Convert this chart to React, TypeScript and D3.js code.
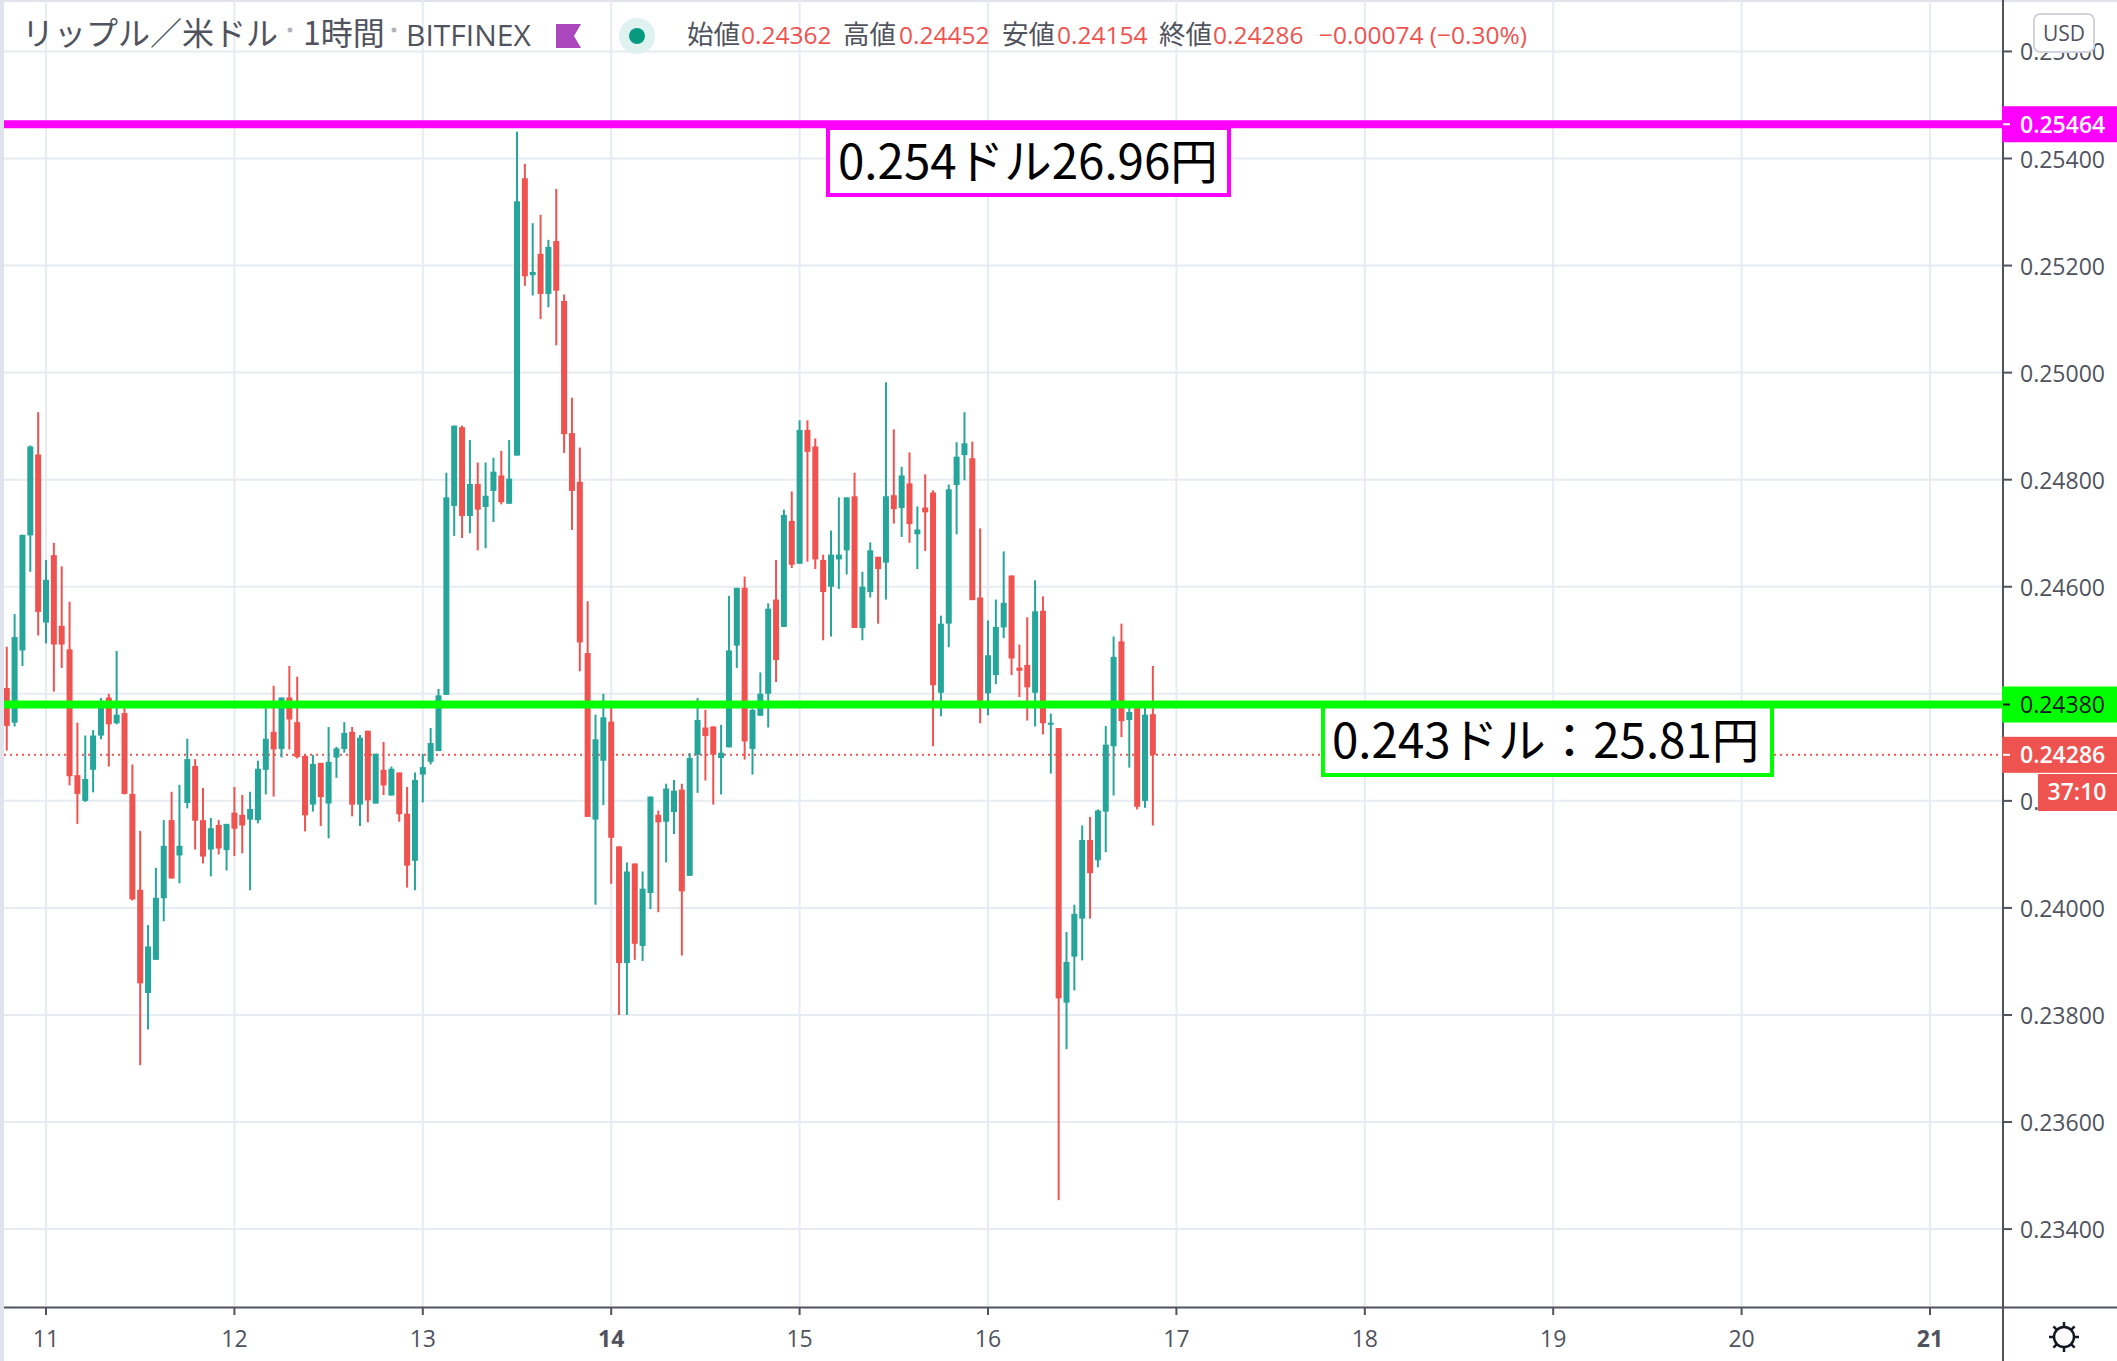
import React from "react";
import * as d3 from "d3";

const FIRST_HOUR = -5; // hours from 11th 00:00 of the first candle
const opens = [.24411,.24346,.24481,.24696,.24847,.24533,.24659,.24527,.24483,.24248,.24200,.24258,.24322,.24393,.24345,.24364,.24213,.24034,.23841,.23903,.24018,.24164,.24098,.24196,.24265,.24164,.24109,.24155,.24108,.24178,.24174,.24165,.24164,.24258,.24329,.24297,.24393,.24347,.24284,.24193,.24271,.24195,.24281,.24297,.24329,.24193,.24331,.24195,.24258,.24210,.24253,.24176,.24088,.24249,.24273,.24293,
.24398,.24751,.24898,.24732,.24792,.24749,.24779,.24808,.24755,.24845,.25363,.25182,.25222,.25147,.25246,.25134,.24887,.24796,.24476,.24165,.24275,.24348,.24115,.23897,.24083,.23929,.24028,.24174,.24161,.24179,.24221,.24060,.24286,.24337,.24339,.24280,.24300,.24490,.24598,.24297,.24359,.24400,.24576,.24525,.24723,.24643,.24893,.24862,.24650,.24600,.24651,
.24668,.24769,.24523,.24590,.24656,.24645,.24771,.24747,.24793,.24698,.24748,.24776,.24402,.24531,.24790,.24846,.24840,.24580,.24401,.24435,.24524,.24621,.24449,.24454,.24402,.24555,.24345,.24336,.23823,.23909,.23980,.24127,.24089,.24180,.24302,.24498,.24351,.24376,.24200,.24362];
const highs = [.24488,.24549,.24697,.24864,.24926,.24650,.24682,.24638,.24572,.24346,.24322,.24332,.24392,.24400,.24480,.24373,.24268,.24144,.23968,.24075,.24164,.24217,.24230,.24316,.24278,.24224,.24168,.24164,.24157,.24226,.24211,.24217,.24275,.24373,.24415,.24393,.24452,.24432,.24286,.24286,.24271,.24338,.24301,.24347,.24338,.24323,.24331,.24288,.24310,.24264,.24253,.24226,.24253,.24288,.24336,.24409,
.24813,.24901,.24901,.24874,.24832,.24832,.24841,.24854,.24874,.25450,.25390,.25279,.25295,.25248,.25343,.25146,.24953,.24860,.24573,.24361,.24400,.24376,.24115,.24085,.24083,.24068,.24208,.24182,.24232,.24239,.24232,.24289,.24392,.24370,.24339,.24342,.24583,.24598,.24619,.24372,.24440,.24569,.24650,.24744,.24778,.24911,.24911,.24877,.24660,.24705,.24767,
.24767,.24813,.24628,.24683,.24656,.24982,.24894,.24824,.24851,.24750,.24810,.24780,.24546,.24791,.24870,.24926,.24871,.24709,.24537,.24576,.24666,.24621,.24492,.24543,.24612,.24582,.24363,.24336,.23955,.24006,.24154,.24170,.24184,.24340,.24507,.24531,.24375,.24376,.24375,.24452];
const lows = [.24294,.24339,.24452,.24628,.24509,.24494,.24404,.24448,.24229,.24157,.24198,.24216,.24315,.24264,.24343,.24212,.24014,.23706,.23773,.23903,.23975,.24055,.24046,.24186,.24109,.24083,.24059,.24100,.24070,.24097,.24102,.24033,.24158,.24212,.24208,.24281,.24296,.24279,.24143,.24180,.24153,.24130,.24243,.24290,.24171,.24153,.24160,.24195,.24211,.24210,.24161,.24038,.24033,.24197,.24268,.24293,
.24398,.24695,.24691,.24700,.24668,.24672,.24721,.24754,.24755,.24845,.25162,.25144,.25100,.25122,.25051,.24850,.24706,.24442,.24170,.24006,.24192,.24045,.23800,.23800,.23903,.23901,.23998,.23992,.24085,.24138,.23911,.24060,.24215,.24238,.24193,.24212,.24300,.24448,.24277,.24249,.24359,.24337,.24422,.24525,.24635,.24643,.24647,.24633,.24500,.24507,.24596,
.24623,.24523,.24500,.24580,.24531,.24576,.24718,.24693,.24682,.24633,.24667,.24302,.24358,.24487,.24698,.24799,.24575,.24345,.24360,.24418,.24504,.24435,.24394,.24350,.24339,.24324,.24251,.23454,.23736,.23846,.23902,.23980,.24076,.24104,.24210,.24319,.24262,.24184,.24187,.24154];
const closes = [.24340,.24506,.24697,.24862,.24553,.24613,.24492,.24492,.24246,.24213,.24241,.24322,.24380,.24343,.24361,.24213,.24016,.23859,.23928,.24019,.24116,.24055,.24116,.24278,.24163,.24096,.24149,.24111,.24157,.24148,.24154,.24185,.24260,.24316,.24296,.24393,.24352,.24282,.24173,.24269,.24207,.24273,.24298,.24327,.24193,.24318,.24201,.24288,.24229,.24260,.24175,.24079,.24239,.24263,.24308,.24397,
.24767,.24901,.24732,.24792,.24744,.24770,.24815,.24758,.24802,.25320,.25180,.25188,.25147,.25235,.25153,.24885,.24779,.24496,.24170,.24315,.24356,.24131,.23897,.24068,.23933,.24036,.24208,.24160,.24223,.24219,.24031,.24280,.24351,.24321,.24286,.24290,.24481,.24598,.24311,.24370,.24400,.24559,.24463,.24734,.24641,.24893,.24852,.24651,.24590,.24660,.24660,
.24767,.24523,.24600,.24668,.24633,.24769,.24745,.24808,.24717,.24707,.24739,.24416,.24531,.24782,.24843,.24868,.24575,.24387,.24472,.24525,.24570,.24466,.24443,.24412,.24554,.24345,.24346,.23831,.23899,.23989,.24127,.24065,.24182,.24305,.24469,.24349,.24366,.24189,.24361,.24286];

const priceTicks = [.234,.236,.238,.24,.242,.244,.246,.248,.25,.252,.254,.256];
const hiddenPriceLabels = [.244]; // covered by the green price flag in the reference
const dayLabels = ["11","12","13","14","15","16","17","18","19","20","21"];
const boldDays = ["14","21"];
const resistance = 0.25464;
const support = 0.2438;
const lastPrice = 0.24286;
const legendKeys = ["始値","高値","安値","終値"];
const legendValues = ["0.24362","0.24452","0.24154","0.24286"];
const legendKeyX = [687, 843, 1002, 1159];
const legendValueX = [741, 899, 1057, 1213];

const UP = "#26a69a", DOWN = "#ef5350", GRID = "#e6ecf2", AXIS = "#50535e";
const SANS = "'Open Sans','Noto Sans CJK JP',sans-serif";
const JP = "'Noto Sans CJK JP',sans-serif";
const plotLeft = 4, plotRight = 2003, plotBottom = 1308;

const y = d3.scaleLinear().domain([0.244, 0.254]).range([693.8, 158.5]);
const xHour = d3.scaleLinear().domain([0, 24]).range([46, 234.4]);
const xDay = (i: number) => xHour(i * 24);
const candles = d3.range(opens.length).map((i) => ({
  h: FIRST_HOUR + i, o: opens[i], hi: highs[i], lo: lows[i], c: closes[i],
}));

export default function App() {
  const bodyW = 6;
  return (
    <svg width={2117} height={1361} style={{ position: "absolute", left: 0, top: 0, background: "#fff" }}>
      <rect x={0} y={0} width={2117} height={2} fill="#e0e3eb" />
      {priceTicks.map((p) => (
        <line key={p} x1={plotLeft} x2={plotRight} y1={y(p)} y2={y(p)} stroke={GRID} strokeWidth={2} />
      ))}
      {dayLabels.map((d, i) => (
        <line key={d} x1={xDay(i)} x2={xDay(i)} y1={0} y2={plotBottom} stroke={GRID} strokeWidth={2} />
      ))}
      <line x1={plotLeft} x2={plotRight} y1={y(lastPrice)} y2={y(lastPrice)} stroke={DOWN} strokeWidth={2} strokeDasharray="2 4" />
      {candles.map((c) => {
        const col = c.c >= c.o ? UP : DOWN;
        const x = xHour(c.h);
        const top = y(Math.max(c.o, c.c));
        const bot = y(Math.min(c.o, c.c));
        return (
          <g key={c.h}>
            <rect x={x - 1} y={y(c.hi)} width={2} height={y(c.lo) - y(c.hi)} fill={col} />
            <rect x={x - bodyW / 2} y={top} width={bodyW} height={Math.max(bot - top, 2)} fill={col} />
          </g>
        );
      })}
      <rect x={828} y={128} width={401} height={67} fill="#fff" stroke="#ff00ff" strokeWidth={4} />
      <text x={838} y={179} fontFamily={JP} fontSize={47.5} fill="#000">0.254ドル26.96円</text>
      <rect x={1323} y={706} width={449} height={69} fill="#fff" stroke="#00ff00" strokeWidth={4} />
      <text x={1332} y={758} fontFamily={JP} fontSize={47.5} fill="#000">0.243ドル：25.81円</text>
      <rect x={plotLeft} y={y(resistance) - 4} width={plotRight - plotLeft} height={8} fill="#ff00ff" />
      <rect x={plotLeft} y={y(support) - 4} width={plotRight - plotLeft} height={8} fill="#00ff00" />

      {/* axes */}
      <rect x={2002} y={0} width={2} height={1361} fill={AXIS} />
      <rect x={plotLeft} y={1306.5} width={2117 - plotLeft} height={2} fill={AXIS} />
      <rect x={0} y={0} width={4} height={1361} fill="#e0e3eb" />
      {priceTicks.map((p) => (
        <g key={p}>
          <line x1={2003} x2={2012} y1={y(p)} y2={y(p)} stroke={AXIS} strokeWidth={2} />
          {!hiddenPriceLabels.includes(p) && (
            <text x={2020} y={y(p) + 9} fontFamily={SANS} fontSize={23} fill={AXIS}>{d3.format(".5f")(p)}</text>
          )}
        </g>
      ))}
      {dayLabels.map((d, i) => (
        <g key={d}>
          <line x1={xDay(i)} x2={xDay(i)} y1={1308} y2={1315} stroke={AXIS} strokeWidth={2} />
          <text x={xDay(i)} y={1347} textAnchor="middle" fontFamily={SANS} fontSize={23} fontWeight={boldDays.includes(d) ? 700 : 400} fill={AXIS}>{d}</text>
        </g>
      ))}
      {[
        { p: resistance, bg: "#ff00ff", fg: "#fff", tick: "#fff", w: 600 },
        { p: support, bg: "#00ff00", fg: "#131722", tick: "#131722", w: 400 },
        { p: lastPrice, bg: DOWN, fg: "#fff", tick: "#fff", w: 600 },
      ].map((l) => (
        <g key={l.p}>
          <rect x={2002} y={y(l.p) - 18} width={115} height={36} fill={l.bg} />
          <line x1={2003} x2={2010} y1={y(l.p)} y2={y(l.p)} stroke={l.tick} strokeWidth={2} />
          <text x={2020} y={y(l.p) + 8.5} fontFamily={SANS} fontSize={23} fontWeight={l.w} fill={l.fg}>{d3.format(".5f")(l.p)}</text>
        </g>
      ))}
      <rect x={2038} y={774} width={79} height={37} fill={DOWN} />
      <text x={2077} y={800} textAnchor="middle" fontFamily={SANS} fontSize={23} fontWeight={600} fill="#fff">37:10</text>

      <rect x={2034} y={14} width={60} height={38} rx={6} fill="#fff" stroke="#d1d4dc" strokeWidth={2} />
      <text x={2064} y={41} textAnchor="middle" fontFamily={SANS} fontSize={21} fill={AXIS}>USD</text>

      {/* gear / sun icon */}
      <g transform="translate(2064,1337)" stroke="#131722" strokeWidth={2.5} fill="none">
        <circle r={10} />
        {d3.range(8).map((k) => (
          <line key={k} x1={0} x2={0} y1={-10} y2={-15} transform={`rotate(${k * 45})`} />
        ))}
      </g>

      {/* header legend */}
      <text x={22} y={45} fontFamily={JP} fontSize={32} fontWeight={400} fill="#50535e">リップル／米ドル</text>
      <circle cx={290} cy={30} r={2.5} fill="#b2b5be" />
      <text x={303} y={45} fontFamily={JP} fontSize={32} fontWeight={400} fill="#50535e">1時間</text>
      <circle cx={394} cy={30} r={2.5} fill="#b2b5be" />
      <text x={406} y={46} fontFamily={SANS} fontSize={30} fill="#50535e">BITFINEX</text>
      <path d="M556,24 h25 l-7,12 l7,12 h-25 z" fill="#ab47bc" />
      <circle cx={637} cy={36} r={18} fill="#e0f2ef" />
      <circle cx={637} cy={36} r={8} fill="#089981" />
      {legendKeys.map((k, i) => (
        <g key={k}>
          <text x={legendKeyX[i]} y={44} fontFamily={JP} fontSize={26.5} fontWeight={400} fill="#50535e">{k}</text>
          <text x={legendValueX[i]} y={44} fontFamily={SANS} fontSize={24.5} fill={DOWN}>{legendValues[i]}</text>
        </g>
      ))}
      <text x={1319} y={44} fontFamily={SANS} fontSize={24.5} fill={DOWN}>−0.00074 (−0.30%)</text>
    </svg>
  );
}
